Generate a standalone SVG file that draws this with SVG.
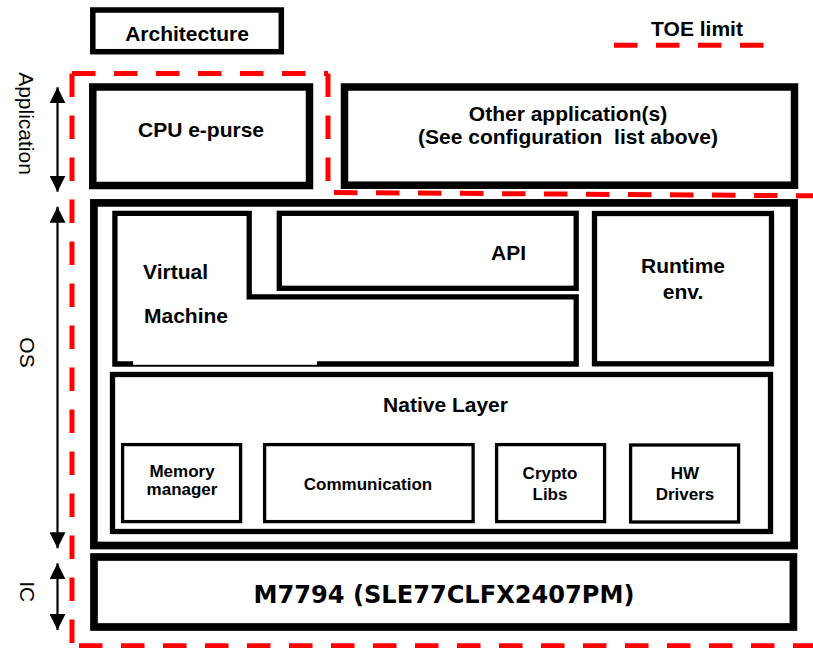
<svg xmlns="http://www.w3.org/2000/svg" width="813" height="648" viewBox="0 0 813 648">
<style>
.box{fill:#fff;stroke:#000}
.t{font-family:"Liberation Sans",Arial,sans-serif;font-weight:bold;font-size:21px;text-anchor:middle;fill:#000}
.s{font-size:17px}
.lab{font-weight:normal}
.toe{fill:none;stroke:#ff0000;stroke-width:5;stroke-dasharray:23.5 18.5}
.arr{stroke:#000;stroke-width:2.2;fill:none;marker-start:url(#ah);marker-end:url(#ah)}
</style>
<defs>
<marker id="ah" viewBox="0 0 16 16" refX="16" refY="8" markerWidth="16" markerHeight="16" markerUnits="userSpaceOnUse" orient="auto-start-reverse">
<path d="M0,0 L16,8 L0,16 Z" fill="#000"/>
</marker>
</defs>
<rect width="813" height="648" fill="#fff"/>

<g id="architecture">
<rect class="box" x="92.8" y="10" width="188.5" height="41.7" stroke-width="5.5"/>
<text class="t" x="187" y="41">Architecture</text>
</g>

<g id="toe-legend">
<text class="t" x="697" y="36">TOE limit</text>
<line class="toe" x1="614" y1="45.2" x2="764" y2="45.2"/>
</g>

<g id="cpu-epurse">
<rect class="box" x="92.8" y="87" width="216.7" height="98.5" stroke-width="7.5"/>
<text class="t" x="201" y="137">CPU e-purse</text>
</g>

<g id="other-apps">
<rect class="box" x="344.5" y="87" width="450" height="98.2" stroke-width="7.5"/>
<text class="t" x="568" y="120.5">Other application(s)</text>
<text class="t" x="568" y="144" style="white-space:pre">(See configuration  list above)</text>
</g>

<g id="os">
<rect class="box" x="93.9" y="202.9" width="700.2" height="342.6" stroke-width="7.7"/>
</g>

<g id="virtual-machine">
<path class="box" d="M114.9,213.3 H249.2 V296.8 H576.2 V364 H114.9 Z" stroke-width="5.3"/>
<rect x="133" y="360.6" width="184" height="4.2" fill="#fff"/>
<text class="t" x="143" y="279" style="text-anchor:start">Virtual</text>
<text class="t" x="144" y="323" style="text-anchor:start">Machine</text>
</g>

<g id="api">
<rect class="box" x="279.3" y="213.3" width="296.9" height="75" stroke-width="5.3"/>
<text class="t" x="508.5" y="260">API</text>
</g>

<g id="runtime-env">
<rect class="box" x="594.5" y="213.5" width="177" height="150.3" stroke-width="5.3"/>
<text class="t" x="683" y="273">Runtime</text>
<text class="t" x="683" y="299">env.</text>
</g>

<g id="native-layer">
<rect class="box" x="112.5" y="374.5" width="658" height="157" stroke-width="5.3"/>
<text class="t" x="445.5" y="412">Native Layer</text>
</g>

<g id="memory-manager">
<rect class="box" x="122.6" y="444.6" width="118" height="77" stroke-width="3.3"/>
<text class="t s" x="182" y="477.3">Memory</text>
<text class="t s" x="182" y="494.5">manager</text>
</g>

<g id="communication">
<rect class="box" x="264.6" y="444.6" width="208.5" height="77" stroke-width="3.3"/>
<text class="t s" x="368" y="490">Communication</text>
</g>

<g id="crypto-libs">
<rect class="box" x="496.6" y="444.6" width="108" height="77" stroke-width="3.3"/>
<text class="t s" x="550" y="479.3">Crypto</text>
<text class="t s" x="550" y="500">Libs</text>
</g>

<g id="hw-drivers">
<rect class="box" x="630.6" y="445" width="108" height="77" stroke-width="3.3"/>
<text class="t s" x="685" y="479.3">HW</text>
<text class="t s" x="685" y="500">Drivers</text>
</g>

<g id="ic">
<rect class="box" x="94" y="557" width="699.4" height="70" stroke-width="7.7"/>
<text class="t" x="444" y="603" style="font-family:'DejaVu Sans',Verdana,sans-serif;font-size:24px" textLength="381" lengthAdjust="spacingAndGlyphs">M7794 (SLE77CLFX2407PM)</text>
</g>

<g id="layer-labels">
<text class="t lab" transform="translate(18.5,123.5) rotate(90)">Application</text>
<text class="t lab" transform="translate(19.5,352.5) rotate(90)">OS</text>
<text class="t lab" transform="translate(20,591.7) rotate(90)">IC</text>
</g>

<g id="toe-limit">
<line class="toe" x1="72" y1="73.5" x2="328" y2="73.5"/>
<line class="toe" x1="72" y1="73.5" x2="72" y2="644"/>
<line class="toe" x1="328" y1="73.5" x2="328" y2="190"/>
<line class="toe" x1="334" y1="192.5" x2="813" y2="195.8"/>
<line class="toe" x1="79" y1="645.8" x2="813" y2="645.8"/>
</g>

<g id="connectors">
<line class="arr" x1="57.5" y1="87.3" x2="57.5" y2="191.7"/>
<line class="arr" x1="57.5" y1="206.7" x2="57.5" y2="548.3"/>
<line class="arr" x1="57.5" y1="563.3" x2="57.5" y2="630"/>
</g>
</svg>
